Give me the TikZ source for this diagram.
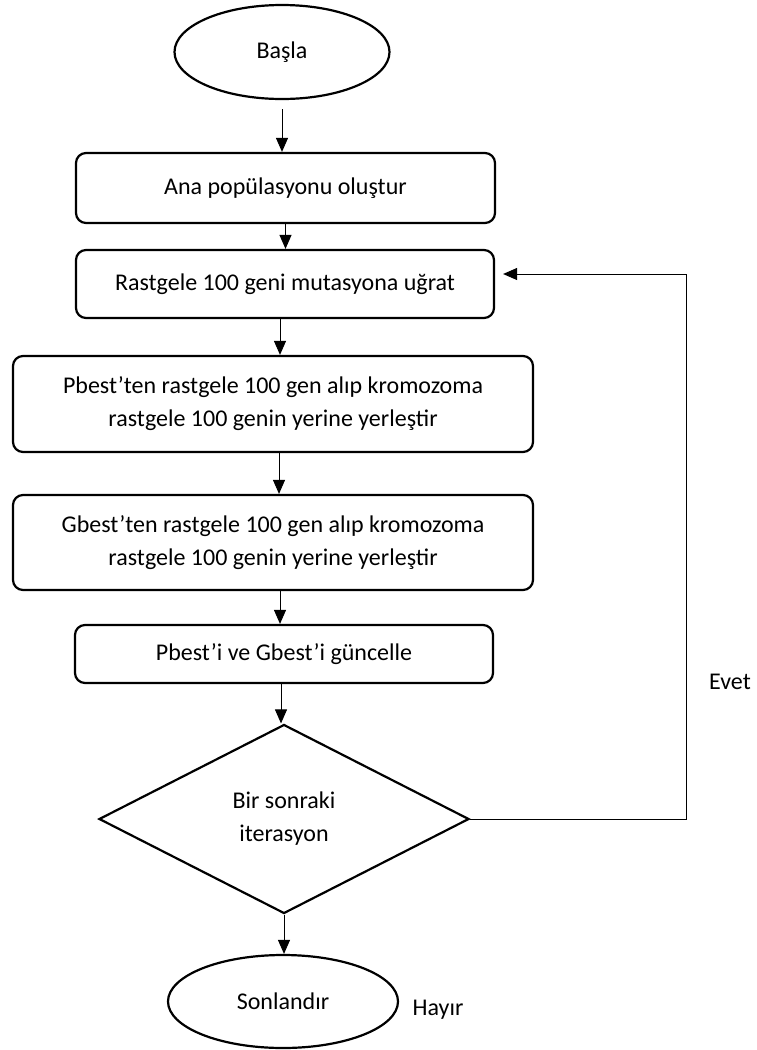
\documentclass[tikz,border=0pt]{standalone}
\usepackage{fontspec}
\setmainfont{Carlito}
\usetikzlibrary{shapes.geometric}
\usetikzlibrary{arrows.meta}

\begin{document}
\begin{tikzpicture}[x=1pt,y=-1pt,
  box/.style={draw,line width=2.2pt,rounded corners=10pt,align=center,inner sep=0pt},
  term/.style={draw,ellipse,line width=2.2pt,inner sep=0pt},
  arr/.style={-{Triangle[width=12pt,length=14pt]},line width=1pt},
  font=\fontsize{24}{33}\selectfont]
\useasboundingbox (0,0) rectangle (756,1050);
\node[term,minimum width=215pt,minimum height=94pt] (basla) at (282,52) {Başla};
\node[box,minimum width=419pt,minimum height=70pt] (ana) at (285.5,188) {Ana popülasyonu oluştur};
\node[box,minimum width=418pt,minimum height=68pt] (mut) at (285,284) {Rastgele 100 geni mutasyona uğrat};
\node[box,minimum width=520pt,minimum height=96pt] (pb) at (273,404) {Pbest’ten rastgele 100 gen alıp kromozoma\\rastgele 100 genin yerine yerleştir};
\node[box,minimum width=520pt,minimum height=95pt] (gb) at (273,542.5) {Gbest’ten rastgele 100 gen alıp kromozoma\\rastgele 100 genin yerine yerleştir};
\node[box,minimum width=418pt,minimum height=58pt] (upd) at (284,654) {Pbest’i ve Gbest’i güncelle};
\node[draw,diamond,line width=2.2pt,inner sep=0pt,align=center,minimum width=370pt,minimum height=189pt] (dec) at (284,819) {Bir sonraki\\iterasyon};
\node[term,minimum width=230pt,minimum height=93pt] (son) at (283,1001.5) {Sonlandır};
\node (hayir) at (438,1010) {Hayır};
\node (evet) at (730,682) {Evet};
\coordinate (loopb) at (686,815);
\coordinate (loopt) at (686,274);
% akis oklari
\draw[arr,shorten <=9pt] (basla.south) -- (basla.south |- ana.north);
\draw[arr] (ana.south) -- (ana.south |- mut.north);
\draw[arr] (mut.south -| 280,0) -- (pb.north -| 280,0);
\draw[arr] (pb.south -| 279,0) -- (gb.north -| 279,0);
\draw[arr] (gb.south -| 280,0) -- (upd.north -| 280,0);
\draw[arr] (upd.south -| 281,0) -- (dec.north -| 281,0);
\draw[arr] (dec.south) -- (dec.south |- son.north);
% geri donus
\draw[arr,shorten >=8pt] (dec.east) -- (dec.east -| loopb) -- (loopt) -- (mut.east |- loopt);
\end{tikzpicture}
\end{document}
